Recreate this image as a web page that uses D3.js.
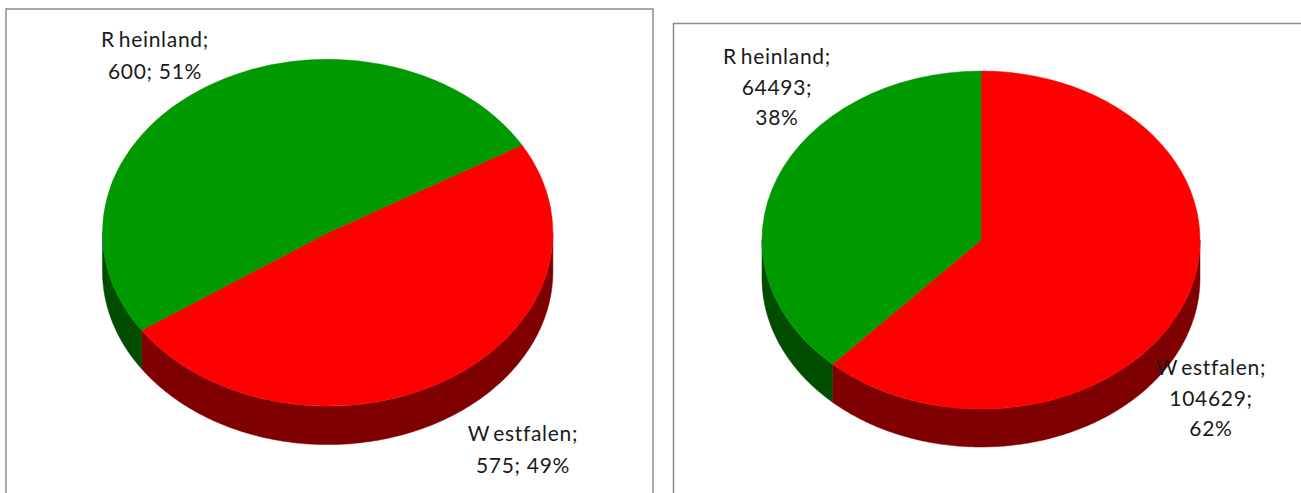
<!DOCTYPE html>
<meta charset="utf-8">
<style>
  body { margin: 0; background: #fff; overflow: hidden; }
  text { font-family: Lato, "Open Sans", sans-serif; font-size: 21px; letter-spacing: 0.7px; fill: #1a1a1a; }
</style>

<!-- Load d3.js -->
<script src="https://d3js.org/d3.v7.min.js"></script>

<!-- Create a div where the graph will take place -->
<div id="my_dataviz"></div>

<script>
  // data
  var categories = ["Westfalen", "Rheinland"];
  var leftValues = [575, 600];
  var rightValues = [104629, 64493];

  var topColors = d3.scaleOrdinal().domain(categories).range(["#ff0000", "#009900"]);
  var sideColors = d3.scaleOrdinal().domain(categories).range(["#7f0000", "#004d00"]);

  var svg = d3.select("#my_dataviz")
    .append("svg")
      .attr("width", 1301)
      .attr("height", 493)
      .style("display", "block");

  // chart frames, they run off the page at the bottom (and right for the second)
  svg.append("rect").attr("x", 6).attr("y", 9).attr("width", 647).attr("height", 520)
    .attr("fill", "none").attr("stroke", "#8c8c8c").attr("stroke-width", 1.5);
  svg.append("rect").attr("x", 673.5).attr("y", 23.5).attr("width", 660).attr("height", 520)
    .attr("fill", "none").attr("stroke", "#8c8c8c").attr("stroke-width", 1.5);

  // draws one tilted pie: top face is a d3.arc squashed to an ellipse,
  // the wall is a d3.area along the front half of the rim
  function drawPie(values, o) {
    var start = o.rotation * Math.PI / 180;
    var slices = d3.pie().sort(null).startAngle(start).endAngle(start + 2 * Math.PI)(values);
    var g = svg.append("g").attr("transform", "translate(" + o.cx + "," + o.cy + ")");

    var wall = d3.area()
      .x(function(a) { return o.rx * Math.sin(a); })
      .y0(function(a) { return -o.ry * Math.cos(a); })
      .y1(function(a) { return -o.ry * Math.cos(a) + o.depth; });

    slices.forEach(function(s, i) {
      // only the part between 90 and 270 degrees faces the viewer
      var a0 = Math.max(s.startAngle, Math.PI / 2);
      var a1 = Math.min(s.endAngle, 3 * Math.PI / 2);
      if (a1 <= a0) return;
      var angles = d3.range(a0, a1, 0.01).concat([a1]);
      g.append("path")
        .attr("d", wall(angles))
        .attr("fill", sideColors(categories[i]))
        .attr("stroke", sideColors(categories[i]))
        .attr("stroke-width", 0.5);
    });

    // big radius on purpose: d3 rounds path numbers, and with radius 1 a half
    // circle slice ends up off centre
    var R = 1000;
    var arc = d3.arc().innerRadius(0).outerRadius(R);
    g.append("g")
      .attr("transform", "scale(" + o.rx / R + "," + o.ry / R + ")")
      .selectAll("path")
      .data(slices)
      .join("path")
        .attr("d", arc)
        .attr("fill", function(d, i) { return topColors(categories[i]); })
        .attr("stroke", function(d, i) { return topColors(categories[i]); })
        .attr("stroke-width", 0.5)
        .attr("vector-effect", "non-scaling-stroke");

    // labels: name; value; percent
    var total = d3.sum(values);
    var pct = d3.format(".0%");
    categories.forEach(function(name, i) {
      var l = o.labels[i];
      var parts = [name + ";", values[i] + ";", pct(values[i] / total)];
      var lines = l.wrap ? parts : [parts[0], parts[1] + " " + parts[2]];
      svg.append("text")
        .attr("text-anchor", "middle")
        .selectAll("tspan")
        .data(lines)
        .join("tspan")
          .attr("x", l.x)
          .attr("y", function(d, k) { return l.y + k * o.lineHeight; })
          // the original has a gap after the capital of the name
          .attr("dx", function(d, k) { return k == 0 ? "0 4" : null; })
          .text(function(d) { return d; });
    });
  }

  drawPie(leftValues, {
    cx: 327.7, cy: 232.7, rx: 225.2, ry: 173.4, depth: 38.5, rotation: 59.6, lineHeight: 31.5,
    labels: [{x: 523, y: 441}, {x: 155, y: 47}]
  });

  drawPie(rightValues, {
    cx: 981, cy: 240, rx: 219, ry: 169, depth: 38, rotation: 0, lineHeight: 30.5,
    labels: [{x: 1211, y: 375, wrap: true}, {x: 777, y: 64, wrap: true}]
  });
</script>
